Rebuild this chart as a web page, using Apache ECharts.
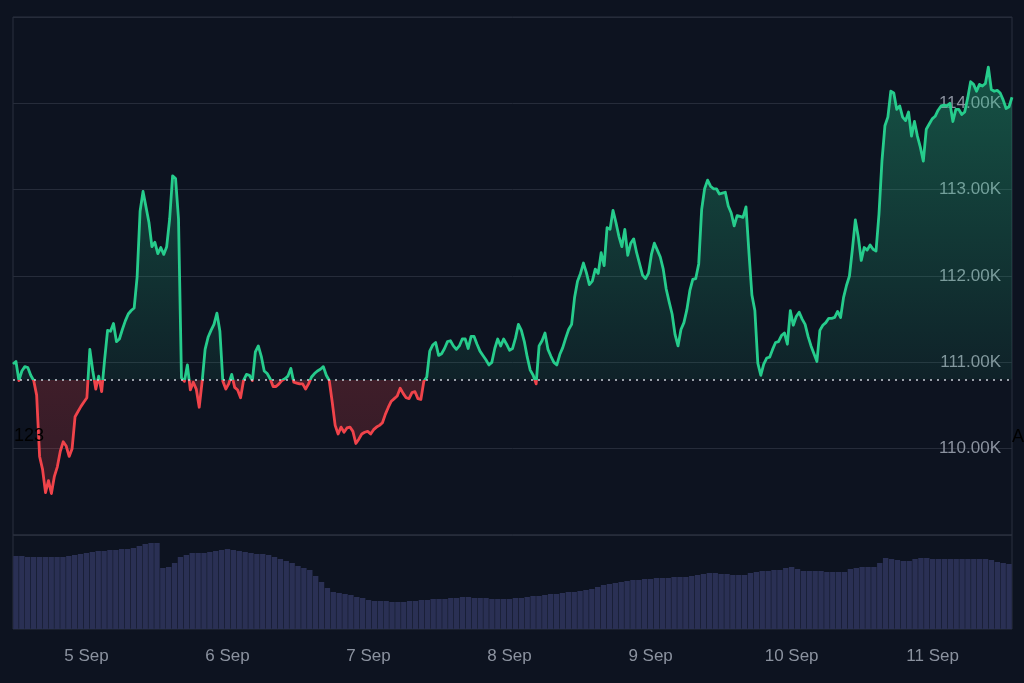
<!DOCTYPE html>
<html lang="en">
<head>
    <meta charset="utf-8">
    <script src="https://cdn.jsdelivr.net/npm/echarts@6/dist/echarts.min.js"></script>
    <style>
        html, body { margin: 0; padding: 0; background: #0d1320; }
        #chart { width: 1024px; height: 683px; }
    </style>
</head>
<body>
<div id="chart"></div>
<script type="text/javascript">
    // price every 30 min, starting 4 Sep 12:00
    var price = [
        110980, 111010, 110790, 110900, 110950, 110940, 110850, 110790, 110620, 109910,
        109760, 109490, 109630, 109480, 109680, 109790, 109970, 110080, 110030, 109910,
        110000, 110370, 110430, 110490, 110540, 110590, 111150, 110900, 110690, 110840,
        110660, 111030, 111370, 111360, 111450, 111240, 111270, 111380, 111480, 111560,
        111600, 111630, 111990, 112750, 112980, 112800, 112620, 112340, 112390, 112260,
        112330, 112250, 112340, 112660, 113160, 113130, 112660, 110820, 110780, 110970,
        110680, 110770, 110690, 110480, 110780, 111150, 111290, 111370, 111440, 111570,
        111360, 110780, 110690, 110750, 110860, 110710, 110680, 110590, 110790, 110860,
        110850, 110790, 111120, 111190, 111070, 110900, 110870, 110810, 110720, 110720,
        110750, 110790, 110810, 110840, 110930, 110770, 110760, 110750, 110750, 110690,
        110750, 110830, 110870, 110900, 110920, 110950, 110850, 110790, 110540, 110270,
        110170, 110250, 110190, 110240, 110250, 110200, 110060, 110110, 110170, 110190,
        110200, 110170, 110220, 110250, 110270, 110300, 110400, 110480, 110550, 110580,
        110610, 110700, 110640, 110590, 110580, 110650, 110660, 110580, 110570, 110780,
        110830, 111130, 111200, 111230, 111080, 111100, 111160, 111240, 111250, 111190,
        111150, 111190, 111270, 111270, 111160, 111300, 111300, 111210, 111130, 111080,
        111030, 110970, 111000, 111160, 111270, 111190, 111270, 111210, 111140, 111160,
        111280, 111440, 111370, 111240, 111060, 110910, 110850, 110750, 111190, 111250,
        111340, 111150, 111070, 111000, 110970, 111090, 111170, 111280, 111380, 111440,
        111750, 111940, 112030, 112150, 112040, 111900, 111940, 112080, 112030, 112270,
        112120, 112560, 112540, 112760, 112620, 112460, 112340, 112540, 112240, 112380,
        112430, 112270, 112140, 112010, 111970, 112030, 112250, 112380, 112300, 112220,
        112080, 111850, 111700, 111560, 111320, 111190, 111380, 111460, 111610, 111830,
        111960, 111970, 112140, 112770, 113010, 113110, 113040, 113010, 113010, 112950,
        112960, 112970, 112810, 112730, 112580, 112700, 112690, 112680, 112800, 112270,
        111780, 111600, 110990, 110850, 110980, 111050, 111060, 111150, 111230, 111240,
        111310, 111340, 111210, 111600, 111430, 111530, 111580, 111500, 111440, 111300,
        111190, 111100, 111010, 111370, 111430, 111460, 111510, 111510, 111520, 111590,
        111520, 111750, 111890, 112000, 112310, 112650, 112450, 112180, 112330, 112300,
        112360, 112310, 112290, 112720, 113330, 113740, 113840, 114140, 114120, 113930,
        113970, 113840, 113800, 113900, 113620, 113790, 113620, 113490, 113330, 113700,
        113760, 113820, 113850, 113920, 113970, 113980, 113970, 114000, 113790, 113930,
        113930, 113870, 113900, 114060, 114250, 114220, 114140, 114220, 114200, 114230,
        114420, 114160, 114140, 114150, 114120, 114040, 113940, 113960, 114070
    ];
    // 24h volume (relative units), hourly
    var volume = [
        73, 73, 72, 72, 72, 72, 72, 72, 72, 73,
        74, 75, 76, 77, 78, 78, 79, 79, 80, 80,
        81, 83, 85, 86, 86, 61, 62, 66, 72, 74,
        76, 76, 76, 77, 78, 79, 80, 79, 78, 77,
        76, 75, 75, 74, 72, 70, 68, 66, 63, 61,
        59, 53, 47, 41, 37, 36, 35, 34, 32, 31,
        29, 28, 28, 28, 27, 27, 27, 28, 28, 29,
        29, 30, 30, 30, 31, 31, 32, 32, 31, 31,
        31, 30, 30, 30, 30, 31, 31, 32, 33, 33,
        34, 35, 35, 36, 37, 37, 38, 39, 40, 42,
        44, 45, 46, 47, 48, 49, 49, 50, 50, 51,
        51, 51, 52, 52, 52, 53, 54, 55, 56, 56,
        55, 55, 54, 54, 54, 56, 57, 58, 58, 59,
        59, 61, 62, 60, 58, 58, 58, 58, 57, 57,
        57, 57, 60, 61, 62, 62, 62, 66, 71, 70,
        69, 68, 68, 70, 71, 71, 70, 70, 70, 70,
        70, 70, 70, 70, 70, 70, 69, 67, 66, 65
    ];
    var baseline = 110800;   // dotted reference price
    var startDay = 4, startHour = 12;

    function stamp(minutes) {
        var h = startHour + Math.floor(minutes / 60);
        var d = startDay + Math.floor(h / 24);
        var hh = h % 24, mm = minutes % 60;
        return d + ' Sep ' + (hh < 10 ? '0' + hh : hh) + ':' + (mm < 10 ? '0' + mm : mm);
    }
    var halfHours = [], hours = [];
    for (var i = 0; i < price.length; i++) halfHours.push(stamp(i * 30));
    for (var j = 0; j < volume.length; j++) hours.push(stamp(j * 60));

    var green = '#26cc8c', red = '#f0434a';
    var pMax = Math.max.apply(null, price), pMin = Math.min.apply(null, price);
    var cut = (pMax - baseline) / (pMax - pMin);

    var chart = echarts.init(document.getElementById('chart'));
    var option = {
        backgroundColor: '#0d1320',
        animation: false,
        textStyle: { fontFamily: 'Liberation Sans, Arial, sans-serif' },
        grid: [
            { left: 13, right: 12, top: 17, height: 518, show: true, borderColor: '#2a303e', borderWidth: 1 },
            { left: 13, right: 12, top: 535, height: 94, show: true, borderColor: '#2a303e', borderWidth: 1 }
        ],
        xAxis: [
            { type: 'category', gridIndex: 0, data: halfHours, boundaryGap: false, show: false },
            {
                type: 'category', gridIndex: 1, data: hours, boundaryGap: true,
                axisLine: { show: false }, axisTick: { show: false },
                axisLabel: {
                    color: '#8b929f', fontSize: 17, margin: 19,
                    interval: function (idx, val) { return val.slice(-5) === '00:00'; },
                    formatter: function (val) { return val.split(' ').slice(0, 2).join(' '); }
                }
            }
        ],
        yAxis: [
            {
                type: 'value', gridIndex: 0, position: 'right',
                min: 109000, max: 115000, interval: 1000,
                axisLine: { show: false }, axisTick: { show: false },
                splitLine: { lineStyle: { color: '#262c3a', width: 1 } },
                axisLabel: {
                    inside: true, margin: 11, color: '#8b929f', fontSize: 17,
                    formatter: function (v) {
                        if (v <= 109000 || v >= 115000) return '';
                        return (v / 1000).toFixed(2) + 'K';
                    }
                }
            },
            { type: 'value', gridIndex: 1, min: 0, max: 94, show: false }
        ],
        visualMap: {
            type: 'piecewise', show: false, seriesIndex: 0, dimension: 1,
            pieces: [
                { gt: 100000, lte: baseline, color: red },
                { gt: baseline, lte: 130000, color: green }
            ]
        },
        series: [
            {
                name: 'Price', type: 'line', xAxisIndex: 0, yAxisIndex: 0,
                data: price, showSymbol: false, smooth: false,
                lineStyle: { width: 2.8, join: 'round' },
                areaStyle: {
                    origin: baseline, opacity: 1,
                    color: new echarts.graphic.LinearGradient(0, 0, 0, 1, [
                        { offset: 0, color: 'rgba(38,204,140,0.34)' },
                        { offset: cut, color: 'rgba(38,204,140,0.08)' },
                        { offset: cut, color: 'rgba(240,67,74,0.22)' },
                        { offset: 1, color: 'rgba(240,67,74,0.16)' }
                    ])
                },
                markLine: {
                    silent: true, symbol: 'none', label: { show: false },
                    lineStyle: { color: '#c9ced6', type: [2, 5], width: 1.5 },
                    data: [{ yAxis: baseline }]
                },
                z: 3
            },
            {
                name: 'Volume', type: 'bar', xAxisIndex: 1, yAxisIndex: 1,
                data: volume, barCategoryGap: '8%',
                itemStyle: { color: '#2a3054' }
            }
        ],
        graphic: [
            { type: 'text', left: 14, top: 427, z: 100, style: { text: '123', fill: '#000', fontSize: 18, fontFamily: 'Liberation Sans' } },
            { type: 'text', left: 1012, top: 428, z: 100, style: { text: 'A', fill: '#000', fontSize: 18, fontFamily: 'Liberation Sans' } }
        ]
    };
    chart.setOption(option);
</script>
</body>
</html>
